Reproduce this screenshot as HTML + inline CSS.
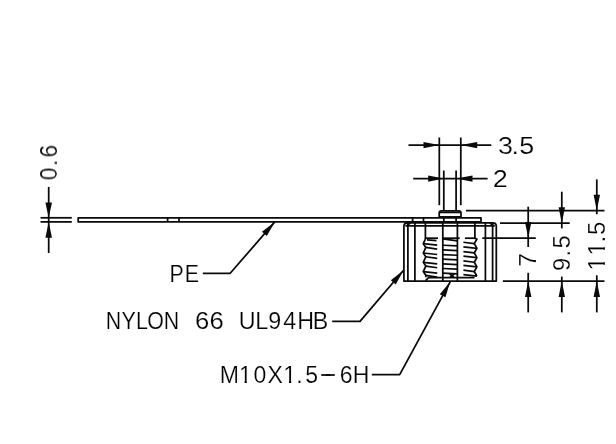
<!DOCTYPE html>
<html><head><meta charset="utf-8"><title>Drawing</title>
<style>
html,body{margin:0;padding:0;background:#fff;}
svg{display:block;}
.g line,.g path,.g rect{fill:none;stroke:#0a0a0a;stroke-width:1.75;stroke-linecap:butt;stroke-linejoin:round;}
.g polygon.a{fill:#0a0a0a;stroke:none;}
.t text{font-family:"Liberation Sans", sans-serif;font-weight:400;fill:#000;stroke:#fff;stroke-width:0.2px;}
</style></head><body>
<svg width="616" height="444" viewBox="0 0 616 444">
<rect width="616" height="444" fill="#fff"/>
<g class="g">
<line x1="48.7" y1="186.9" x2="48.7" y2="253"/>
<line x1="40.5" y1="217.8" x2="71.8" y2="217.8"/>
<line x1="40.5" y1="221.9" x2="71.8" y2="221.9"/>
<polygon class="a" points="48.70,217.80 45.40,202.50 52.00,202.50"/>
<polygon class="a" points="48.70,221.90 52.00,237.70 45.40,237.70"/>
<rect x="78.2" y="217.8" width="402.8" height="4.1"/>
<line x1="167.6" y1="217.8" x2="167.6" y2="221.9"/>
<line x1="179" y1="217.8" x2="179" y2="221.9"/>
<line x1="412.6" y1="217.8" x2="412.6" y2="221.9"/>
<line x1="423.5" y1="217.8" x2="423.5" y2="221.9"/>
<path d="M202.80 273.30 L230.20 273.30 L274.80 221.90"/>
<polygon class="a" points="274.80,221.90 266.80,236.01 261.96,231.81"/>
<path d="M403.9 281.1 L403.9 226.2 Q403.9 222.8 407.3 222.8 L492.9 222.8 Q496.3 222.8 496.3 226.2 L496.3 281.1 Z"/>
<line x1="405.4" y1="225.9" x2="494.8" y2="225.9"/>
<line x1="489.9" y1="223" x2="493.8" y2="225.9"/>
<line x1="410.4" y1="223" x2="406.4" y2="225.9"/>
<line x1="407.9" y1="222.8" x2="407.9" y2="281.1"/>
<line x1="414.9" y1="222.8" x2="414.9" y2="281.1"/>
<line x1="485.4" y1="222.8" x2="485.4" y2="281.1"/>
<line x1="492.6" y1="222.8" x2="492.6" y2="281.1"/>
<line x1="425.4" y1="222.8" x2="425.4" y2="239.2"/>
<line x1="474.9" y1="222.8" x2="474.9" y2="238.2"/>
<line x1="442.8" y1="221.9" x2="442.8" y2="281.1"/>
<line x1="457.4" y1="221.9" x2="457.4" y2="281.1"/>
<line x1="425.4" y1="238.2" x2="438" y2="238.2"/>
<line x1="442.8" y1="238.2" x2="459.7" y2="238.2"/>
<line x1="464.9" y1="238.2" x2="475.5" y2="238.2"/>
<line x1="482.3" y1="238" x2="535.8" y2="238"/>
<line x1="429" y1="277.6" x2="474.5" y2="277.6"/>
<line x1="425.6" y1="280.6" x2="429" y2="277.2"/>
<path d="M442.80 238.90 L457.40 240.90"/>
<line x1="442.8" y1="245.25" x2="457.4" y2="245.95"/>
<line x1="442.8" y1="249.9" x2="457.4" y2="250.6"/>
<line x1="442.8" y1="254.55" x2="457.4" y2="255.25"/>
<line x1="442.8" y1="259.2" x2="457.4" y2="259.9"/>
<line x1="442.8" y1="263.85" x2="457.4" y2="264.55"/>
<line x1="442.8" y1="268.5" x2="457.4" y2="269.2"/>
<line x1="442.8" y1="273.15" x2="457.4" y2="273.85"/>
<line x1="449.8" y1="274" x2="454.2" y2="277.6"/>
<line x1="454.2" y1="274" x2="449.8" y2="277.6"/>
<line x1="427" y1="239.9" x2="436.5" y2="240.7"/>
<line x1="423.3" y1="243.7" x2="437.2" y2="245.2"/>
<line x1="425.8" y1="247.45" x2="437.2" y2="249.15"/>
<line x1="423.3" y1="253" x2="437.2" y2="254.5"/>
<line x1="425.8" y1="256.75" x2="437.2" y2="258.45"/>
<line x1="423.3" y1="262.3" x2="437.2" y2="263.8"/>
<line x1="425.8" y1="266.05" x2="437.2" y2="267.75"/>
<line x1="423.3" y1="271.6" x2="437.2" y2="273.1"/>
<line x1="425.8" y1="275.35" x2="437.2" y2="277.05"/>
<path d="M425.40 239.20 L423.30 243.70 L425.80 247.45 L423.30 253.00 L425.80 256.75 L423.30 262.30 L425.80 266.05 L423.30 271.60 L425.80 275.35 L425.80 277.20"/>
<line x1="463.4" y1="242.25" x2="474.3" y2="243.65"/>
<line x1="463.4" y1="246.8" x2="476.9" y2="248.3"/>
<line x1="463.4" y1="251.55" x2="474.3" y2="252.95"/>
<line x1="463.4" y1="256.1" x2="476.9" y2="257.6"/>
<line x1="463.4" y1="260.85" x2="474.3" y2="262.25"/>
<line x1="463.4" y1="265.4" x2="476.9" y2="266.9"/>
<line x1="463.4" y1="270.15" x2="474.3" y2="271.55"/>
<line x1="463.4" y1="274.7" x2="476.9" y2="276.2"/>
<path d="M474.80 238.20 L476.90 239.00 L474.30 243.65 L476.90 248.30 L474.30 252.95 L476.90 257.60 L474.30 262.25 L476.90 266.90 L474.30 271.55 L476.90 276.20"/>
<path d="M439.2 217.8 L439.2 213.0 Q439.2 210.8 441.4 210.8 L458.8 210.8 Q461.0 210.8 461.0 213.0 L461.0 217.8"/>
<line x1="439.6" y1="212.4" x2="460.6" y2="212.4"/>
<line x1="439.2" y1="216.9" x2="461" y2="216.9"/>
<line x1="443.8" y1="170.5" x2="443.8" y2="210.7"/>
<line x1="456.1" y1="170.5" x2="456.1" y2="210.7"/>
<line x1="443.8" y1="217.8" x2="443.8" y2="221.9"/>
<line x1="456.1" y1="217.8" x2="456.1" y2="221.9"/>
<line x1="439.3" y1="137.5" x2="439.3" y2="205.2"/>
<line x1="460.8" y1="137.5" x2="460.8" y2="205.2"/>
<line x1="408.5" y1="145.1" x2="491.3" y2="145.1"/>
<polygon class="a" points="439.30,145.10 423.50,148.30 423.50,141.90"/>
<polygon class="a" points="460.80,145.10 477.20,141.90 477.20,148.30"/>
<line x1="413.2" y1="178.6" x2="487.6" y2="178.6"/>
<polygon class="a" points="443.80,178.60 428.20,181.80 428.20,175.40"/>
<polygon class="a" points="456.10,178.60 472.50,175.40 472.50,181.80"/>
<line x1="466" y1="210.6" x2="604.5" y2="210.6"/>
<line x1="500" y1="223.1" x2="569.7" y2="223.1"/>
<line x1="502.8" y1="281" x2="604.5" y2="281"/>
<line x1="528.2" y1="206.7" x2="528.2" y2="247"/>
<polygon class="a" points="528.20,237.80 525.00,221.90 531.40,221.90"/>
<line x1="528.2" y1="272.8" x2="528.2" y2="312.4"/>
<polygon class="a" points="528.20,281.00 531.40,296.90 525.00,296.90"/>
<line x1="561.8" y1="191.7" x2="561.8" y2="228.4"/>
<polygon class="a" points="561.80,223.10 558.60,207.20 565.00,207.20"/>
<line x1="561.8" y1="276.6" x2="561.8" y2="312.4"/>
<polygon class="a" points="561.80,281.00 565.00,296.90 558.60,296.90"/>
<line x1="596.8" y1="179.4" x2="596.8" y2="214.3"/>
<polygon class="a" points="596.80,210.60 593.60,194.70 600.00,194.70"/>
<line x1="596.8" y1="275.3" x2="596.8" y2="312.4"/>
<polygon class="a" points="596.80,281.00 600.00,296.90 593.60,296.90"/>
<path d="M332.20 321.40 L360.00 321.40 L403.60 270.30"/>
<polygon class="a" points="403.60,270.30 395.71,284.47 390.85,280.32"/>
<path d="M371.80 374.70 L399.70 374.70 L450.20 281.80"/>
<polygon class="a" points="450.20,281.80 445.42,297.30 439.79,294.24"/>
</g>
<g class="t" opacity="0.995">
<text transform="translate(0 153.8) scale(1.12 1)" x="444.74 456.67 463.66" y="0" font-size="24.0">3.5</text>
<text transform="translate(0 187.0) scale(1.125 1)" x="438.08" y="0" font-size="24.0">2</text>
<text transform="translate(0 281.7) scale(0.89 1)" x="190.58 207.65" y="0" font-size="24.0">PE</text>
<text transform="translate(0 329.0) scale(0.89 1)" x="118.86 136.43 152.91 165.39 183.97" y="0" font-size="24.0">NYLON</text>
<text transform="translate(0 329.0) scale(1.07 1)" x="182.36 195.72" y="0" font-size="24.0">66</text>
<text transform="translate(0 329.0) scale(0.97 1)" x="246.23 263.26 276.63 291.96 306.33 322.31" y="0" font-size="24.0">UL94HB</text>
<clipPath id="c1" clipPathUnits="userSpaceOnUse"><path clip-rule="evenodd" d="M-2000 -100H2000V100H-2000ZM250.01 -3.00H254.76V1.50H250.01ZM257.12 -3.00H261.73V1.50H257.12ZM296.26 -3.00H301.01V1.50H296.26ZM303.37 -3.00H307.98V1.50H303.37Z"/></clipPath>
<text clip-path="url(#c1)" transform="translate(0 383.3) scale(0.96 1)" x="228.91 248.84 264.06 278.54 295.09 308.65 318.09 337.67 353.82 367.47" y="0" dy="0 0 0 0 0 0 0 -2.75 2.75 0" font-size="24.0">M10X1.5-6H</text>
<text transform="translate(57.0 0) rotate(-90) scale(0.95 1)" x="-189.78 -174.81 -165.91" y="0" font-size="24.0">0.6</text>
<text transform="translate(536.2 0) rotate(-90) scale(1.04 1)" x="-256.49" y="0" font-size="24.0">7</text>
<text transform="translate(570.0 0) rotate(-90) scale(0.99 1)" x="-273.69 -259.04 -251.02" y="0" font-size="24.0">9.5</text>
<clipPath id="c2" clipPathUnits="userSpaceOnUse"><path clip-rule="evenodd" d="M-2000 -100H2000V100H-2000ZM-269.37 -3.00H-264.63V1.50H-269.37ZM-262.27 -3.00H-257.66V1.50H-262.27ZM-254.42 -3.00H-249.68V1.50H-254.42ZM-247.32 -3.00H-242.71V1.50H-247.32Z"/></clipPath>
<text clip-path="url(#c2)" transform="translate(605.0 0) rotate(-90) scale(1.0 1)" x="-270.55 -255.60 -242.38 -234.95" y="0" font-size="24.0">11.5</text>
</g>
<g class="g"><line x1="321.2" y1="375" x2="334.8" y2="375"/></g>
</svg>
</body></html>
